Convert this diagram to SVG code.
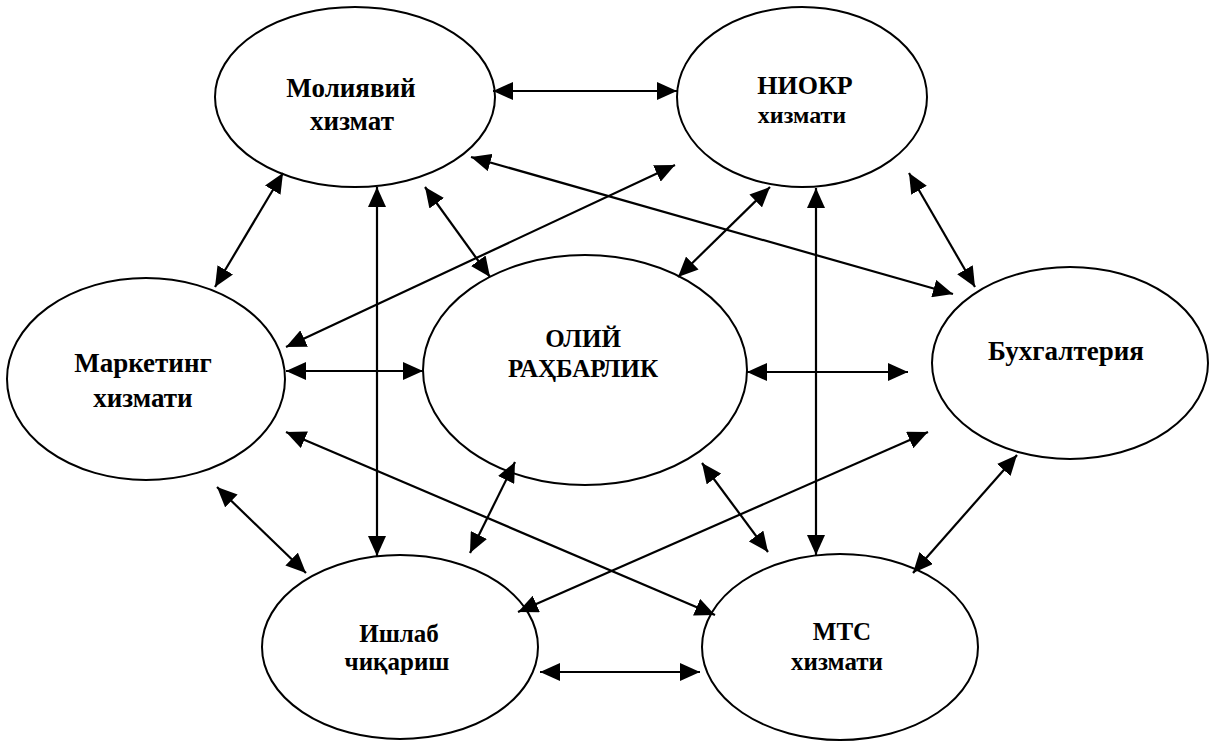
<svg xmlns="http://www.w3.org/2000/svg" width="1213" height="745" viewBox="0 0 1213 745">
  <style>
    .node { fill: #ffffff; stroke: #000000; stroke-width: 2; }
    .lbl { font-family: "Liberation Serif", "Times New Roman", serif; font-weight: bold; fill: #000000; text-anchor: middle; }
    .conn line { stroke: #000000; stroke-width: 2.2; marker-start: url(#ah); marker-end: url(#ah); }
  </style>
  <defs>
    <marker id="ah" viewBox="0 0 20 18" refX="20" refY="9" markerWidth="20" markerHeight="18" markerUnits="userSpaceOnUse" orient="auto-start-reverse">
      <path d="M0,0 L20,9 L0,18 z" fill="#000000"/>
    </marker>
  </defs>
  <rect width="1213" height="745" fill="#ffffff"/>

  <g id="node-moliyaviy">
    <ellipse class="node" cx="355" cy="97" rx="140" ry="90"/>
    <text class="lbl" x="351" y="97" font-size="27">Молиявий</text>
    <text class="lbl" x="352" y="130" font-size="27">хизмат</text>
  </g>
  <g id="node-niokr">
    <ellipse class="node" cx="802" cy="97" rx="125" ry="90"/>
    <text class="lbl" x="805" y="94" font-size="26">НИОКР</text>
    <text class="lbl" x="802" y="123" font-size="24">хизмати</text>
  </g>
  <g id="node-marketing">
    <ellipse class="node" cx="146" cy="379" rx="139" ry="101"/>
    <text class="lbl" x="143" y="372" font-size="27">Маркетинг</text>
    <text class="lbl" x="143" y="407" font-size="27">хизмати</text>
  </g>
  <g id="node-oliy">
    <ellipse class="node" cx="585" cy="370" rx="162" ry="115"/>
    <text class="lbl" x="583" y="347" font-size="25">ОЛИЙ</text>
    <text class="lbl" x="583" y="377" font-size="25">РАҲБАРЛИК</text>
  </g>
  <g id="node-buxgalteriya">
    <ellipse class="node" cx="1070" cy="363" rx="138" ry="96"/>
    <text class="lbl" x="1066" y="360" font-size="27">Бухгалтерия</text>
  </g>
  <g id="node-ishlab">
    <ellipse class="node" cx="400" cy="647" rx="138" ry="92"/>
    <text class="lbl" x="399" y="642" font-size="25">Ишлаб</text>
    <text class="lbl" x="397" y="670" font-size="25">чиқариш</text>
  </g>
  <g id="node-mts">
    <ellipse class="node" cx="840" cy="647" rx="138" ry="93"/>
    <text class="lbl" x="842" y="640" font-size="25">МТС</text>
    <text class="lbl" x="837" y="670" font-size="25">хизмати</text>
  </g>

  <g id="connectors" class="conn">
    <line x1="493" y1="91" x2="677" y2="91"/>
    <line x1="283" y1="173" x2="215" y2="287"/>
    <line x1="377" y1="187" x2="377" y2="556"/>
    <line x1="425" y1="187" x2="490" y2="277"/>
    <line x1="471" y1="157" x2="953" y2="294"/>
    <line x1="675" y1="165" x2="286" y2="347"/>
    <line x1="286" y1="371" x2="423" y2="371"/>
    <line x1="286" y1="432" x2="715" y2="615"/>
    <line x1="217" y1="487" x2="306" y2="573"/>
    <line x1="770" y1="187" x2="678" y2="277"/>
    <line x1="816" y1="188" x2="816" y2="555"/>
    <line x1="909" y1="173" x2="975" y2="287"/>
    <line x1="747" y1="372" x2="908" y2="372"/>
    <line x1="515" y1="462" x2="470" y2="553"/>
    <line x1="702" y1="463" x2="768" y2="552"/>
    <line x1="928" y1="432" x2="518" y2="612"/>
    <line x1="1017" y1="455" x2="913" y2="573"/>
    <line x1="540" y1="672" x2="700" y2="672"/>
  </g>
</svg>
